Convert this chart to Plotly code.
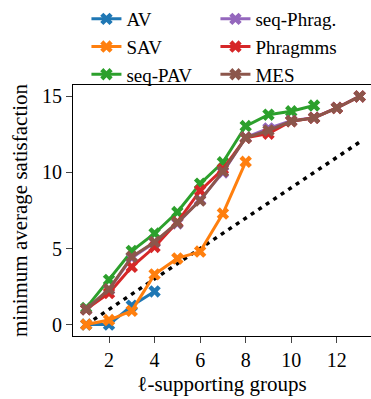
import plotly.graph_objects as go

groups_av = [1, 2, 3, 4]
av = [0.0, 0.0, 1.24, 2.18]

groups_sav = [1, 2, 3, 4, 5, 6, 7, 8]
sav = [0.0, 0.3, 0.9, 3.3, 4.35, 4.8, 7.3, 10.7]

groups_seqpav = [1, 2, 3, 4, 5, 6, 7, 8, 9, 10, 11]
seq_pav = [1.1, 2.94, 4.84, 5.99, 7.4, 9.26, 10.67, 13.05, 13.8, 14.02, 14.4]

groups_full = [1, 2, 3, 4, 5, 6, 7, 8, 9, 10, 11, 12, 13]
seq_phrag = [1.0, 2.3, 4.4, 5.4, 6.65, 8.2, 10.0, 12.3, 12.9, 13.4, 13.6, 14.25, 15.0]
phragmms = [1.0, 2.07, 3.8, 5.1, 6.74, 8.8, 10.22, 12.28, 12.55, 13.37, 13.59, 14.24, 15.0]
mes = [1.0, 2.33, 4.46, 5.43, 6.7, 8.15, 10.07, 12.28, 12.76, 13.37, 13.59, 14.24, 15.0]

diag_x = [1, 13]
diag_y = [0, 12]

x_ticks = [2, 4, 6, 8, 10, 12]
y_ticks = [0, 5, 10, 15]

FONT = "Liberation Serif"

series = [
    ("AV", groups_av, av, "#1f77b4", 1),
    ("SAV", groups_sav, sav, "#ff7f0e", 3),
    ("seq-PAV", groups_seqpav, seq_pav, "#2ca02c", 5),
    ("seq-Phrag.", groups_full, seq_phrag, "#9467bd", 2),
    ("Phragmms", groups_full, phragmms, "#d62728", 4),
    ("MES", groups_full, mes, "#8c564b", 6),
]

fig = go.Figure()
fig.add_trace(go.Scatter(
    x=diag_x, y=diag_y, mode="lines", showlegend=False,
    line=dict(color="black", width=3.5, dash="4px,5px"),
))
for name, xs, ys, color, rank in series:
    fig.add_trace(go.Scatter(
        x=xs, y=ys, name=name, mode="lines+markers", legendrank=rank,
        line=dict(color=color, width=3),
        marker=dict(symbol="x", size=11, color=color),
    ))

fig.update_layout(
    width=371, height=399,
    margin=dict(l=73, r=0, t=85, b=63, autoexpand=False),
    plot_bgcolor="white", paper_bgcolor="white",
    font=dict(family=FONT, size=20, color="black"),
    legend=dict(
        orientation="h", xref="container", yref="container",
        x=0.233, y=1.0, xanchor="left", yanchor="top",
        entrywidth=84, entrywidthmode="pixels",
        font=dict(family=FONT, size=19), itemwidth=30,
        bgcolor="rgba(0,0,0,0)", tracegroupgap=0,
    ),
    xaxis=dict(
        range=[0.42, 13.5], tickvals=x_ticks, ticks="outside", ticklen=6,
        tickcolor="#444", showgrid=False, zeroline=False,
        showline=True, linecolor="black", linewidth=1.2, mirror=True,
        tickfont=dict(family=FONT, size=20), automargin=False,
        title=dict(text="ℓ-supporting groups", font=dict(family=FONT, size=21), standoff=6),
    ),
    yaxis=dict(
        range=[-0.75, 15.75], tickvals=y_ticks, ticks="outside", ticklen=6,
        tickcolor="#444", showgrid=False, zeroline=False,
        showline=True, linecolor="black", linewidth=1.2, automargin=False,
        tickfont=dict(family=FONT, size=20),
        title=dict(text="minimum average satisfaction", font=dict(family=FONT, size=21), standoff=8),
    ),
)

fig.write_html("out.html", config={"displayModeBar": False},
               post_script="document.body.style.margin='0';")
